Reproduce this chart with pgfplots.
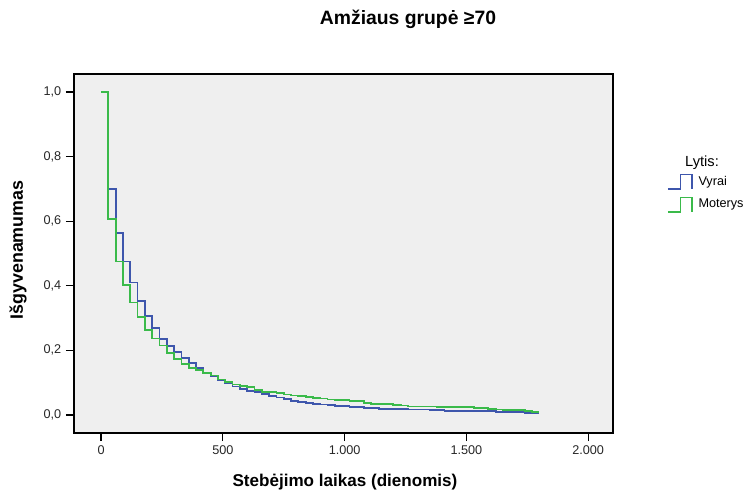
\documentclass[border=0pt]{standalone}
\usepackage{fontspec}
\setmainfont{Liberation Sans}
\usepackage{pgfplots}
\pgfplotsset{compat=1.18}

\definecolor{vyraicol}{RGB}{62,86,172}
\definecolor{moteryscol}{RGB}{58,186,74}
\definecolor{plotbg}{RGB}{239,239,239}

% Kaplan-Meier survival estimates, one step per 30 days
\pgfplotstableread{
t S
0 1.000
30 0.699
60 0.563
90 0.475
120 0.410
150 0.353
180 0.307
210 0.270
240 0.236
270 0.214
300 0.195
330 0.176
360 0.160
390 0.146
420 0.131
450 0.119
480 0.108
510 0.098
540 0.088
570 0.081
600 0.075
630 0.070
660 0.065
690 0.059
720 0.054
750 0.049
780 0.044
810 0.040
840 0.036
870 0.034
900 0.032
930 0.030
960 0.028
990 0.027
1020 0.025
1050 0.024
1080 0.022
1110 0.021
1140 0.019
1170 0.019
1200 0.018
1230 0.018
1260 0.017
1290 0.017
1320 0.017
1350 0.016
1380 0.016
1410 0.013
1440 0.012
1470 0.012
1500 0.011
1530 0.011
1560 0.011
1590 0.011
1620 0.009
1650 0.009
1680 0.008
1710 0.008
1740 0.006
1770 0.006
1800 0.006
}\vyrai

\pgfplotstableread{
t S
0 1.000
30 0.608
60 0.475
90 0.403
120 0.348
150 0.303
180 0.264
210 0.237
240 0.215
270 0.193
300 0.172
330 0.158
360 0.146
390 0.139
420 0.131
450 0.122
480 0.110
510 0.101
540 0.094
570 0.090
600 0.086
630 0.078
660 0.072
690 0.070
720 0.069
750 0.063
780 0.060
810 0.059
840 0.055
870 0.052
900 0.051
930 0.048
960 0.045
990 0.045
1020 0.044
1050 0.043
1080 0.038
1110 0.034
1140 0.034
1170 0.033
1200 0.030
1230 0.029
1260 0.026
1290 0.026
1320 0.026
1350 0.026
1380 0.025
1410 0.025
1440 0.025
1470 0.025
1500 0.025
1530 0.021
1560 0.021
1590 0.018
1620 0.017
1650 0.016
1680 0.0155
1710 0.015
1740 0.012
1770 0.009
1800 0.009
}\moterys

\begin{document}
\begin{tikzpicture}
\begin{scope}[x=0.75pt,y=-0.75pt]
  \path[use as bounding box] (0,0) rectangle (750,495);
\end{scope}
\begin{axis}[
  at={(55.5pt,-324.75pt)}, anchor=south west,
  scale only axis, width=404.25pt, height=269.25pt,
  xmin=-111, xmax=2102, ymin=-0.056, ymax=1.056,
  axis background/.style={fill=plotbg},
  axis line style={line width=1pt},
  tick align=outside, tick pos=left,
  major tick length=6pt,
  every tick/.style={black, line width=0.9pt},
  xtick={0,500,1000,1500,2000},
  xticklabels={0,500,{1.000},{1.500},{2.000}},
  ytick={0,0.2,0.4,0.6,0.8,1.0},
  yticklabels={{0,0},{0,2},{0,4},{0,6},{0,8},{1,0}},
  tick label style={font=\fontsize{9.5}{11}\selectfont, text=black!85},
  legend style={at={(1.1,0.724)}, anchor=north west, draw=none, fill=none,
    font=\fontsize{9.5}{11}\selectfont, row sep=5pt, column sep=2.5pt, inner sep=0pt},
  legend cell align=left,
  legend image code/.code={\draw[#1,line width=1pt]
    (0pt,-5.5pt) -- (9.5pt,-5.5pt) -- (9.5pt,5.5pt) -- (18pt,5.5pt) -- (18pt,-5.5pt);},
]
\addplot[const plot, vyraicol, line width=1.35pt] table[x=t, y=S] {\vyrai};
\addlegendentry{Vyrai}
\addplot[const plot, moteryscol, line width=1.35pt] table[x=t, y=S] {\moterys};
\addlegendentry{Moterys}
\end{axis}
\begin{scope}[x=0.75pt,y=-0.75pt]
  \node[font=\bfseries\fontsize{14.5}{17}\selectfont] at (408,19) {Amžiaus grupė ≥70};
  \node[font=\bfseries\fontsize{12.8}{15}\selectfont] at (345,482) {Stebėjimo laikas (dienomis)};
  \node[font=\bfseries\fontsize{13.4}{15}\selectfont, rotate=90] at (18,250) {Išgyvenamumas};
  \node[font=\fontsize{11}{13}\selectfont] at (702,163) {Lytis:};
\end{scope}
\end{tikzpicture}
\end{document}
